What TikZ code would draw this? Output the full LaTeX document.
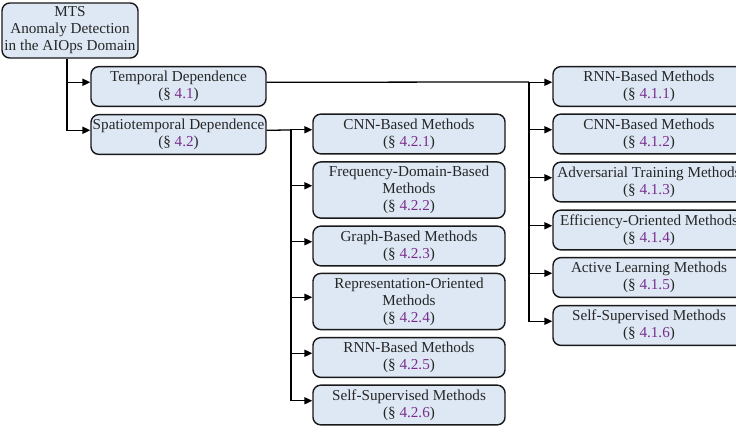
\documentclass[tikz,border=0pt]{standalone}
\usepackage{fontspec}
\setmainfont{Liberation Serif}
\usetikzlibrary{arrows.meta}
\definecolor{boxfill}{HTML}{DDE8F4}
\definecolor{secpurple}{HTML}{7B2D8E}
\newcommand{\secref}[1]{(\S~\textcolor{secpurple}{#1})}
\tikzset{
  box/.style={draw=black!90, line width=1pt, fill=boxfill, rounded corners=5.5pt,
    align=center, inner xsep=1pt, inner ysep=1pt,
    font=\fontsize{10.7}{12}\selectfont, text=black!85},
  w175/.style={minimum width=123.4pt},
  w192/.style={minimum width=135.4pt},
  h40/.style={minimum height=28pt},
  h56/.style={minimum height=39.6pt},
  conn/.style={line width=0.9pt, draw=black},
  arr/.style={conn, -{Triangle[length=5.5pt,width=5pt]}}
}
\begin{document}
\begin{tikzpicture}[x=0.705pt,y=-0.705pt]
\useasboundingbox (0,0) rectangle (736,429);
% root
\node[box, minimum width=95.9pt, minimum height=38.8pt] (root) at (70,30.5)
  {MTS\\Anomaly Detection\\in the AIOps Domain};
% level 1
\node[box,w175,h40] (temp) at (178.5,86.5) {Temporal Dependence\\\secref{4.1}};
\node[box,w175,h40] (spat) at (178.5,134.5) {Spatiotemporal Dependence\\\secref{4.2}};
% spatiotemporal children
\node[box,w192,h40] (m1) at (409,134) {CNN-Based Methods\\\secref{4.2.1}};
\node[box,w192,h56] (m2) at (409,190) {Frequency-Domain-Based\\Methods\\\secref{4.2.2}};
\node[box,w192,h40] (m3) at (409,246) {Graph-Based Methods\\\secref{4.2.3}};
\node[box,w192,h56] (m4) at (409,301.5) {Representation-Oriented\\Methods\\\secref{4.2.4}};
\node[box,w192,h40] (m5) at (409,357.5) {RNN-Based Methods\\\secref{4.2.5}};
\node[box,w192,h40] (m6) at (409,405) {Self-Supervised Methods\\\secref{4.2.6}};
% temporal children
\node[box,w192,h40] (r1) at (649,86.5) {RNN-Based Methods\\\secref{4.1.1}};
\node[box,w192,h40] (r2) at (649,134) {CNN-Based Methods\\\secref{4.1.2}};
\node[box,w192,h40] (r3) at (649,182) {Adversarial Training Methods\\\secref{4.1.3}};
\node[box,w192,h40] (r4) at (649,230) {Efficiency-Oriented Methods\\\secref{4.1.4}};
\node[box,w192,h40] (r5) at (649,277.5) {Active Learning Methods\\\secref{4.1.5}};
\node[box,w192,h40] (r6) at (649,325.5) {Self-Supervised Methods\\\secref{4.1.6}};
% connectors from root
\coordinate (rj) at ([xshift=-2.1pt]root.south);
\draw[arr] (rj) |- ([yshift=3pt]temp.west);
\draw[arr] (rj) |- ([yshift=3pt]spat.west);
% temporal branch
\coordinate (tj) at (529,82);
\draw[conn] ([yshift=3pt]temp.east) -- (tj);
\foreach \n in {r1,r2,r3,r4,r5,r6}{
  \draw[arr] (tj) |- ([yshift=3pt]\n.west);
}
% spatiotemporal branch
\coordinate (sj) at (291,130);
\draw[conn] ([yshift=3pt]spat.east) -- (sj);
\foreach \n in {m1,m2,m3,m4,m5,m6}{
  \draw[arr] (sj) |- ([yshift=3pt]\n.west);
}
\end{tikzpicture}
\end{document}
